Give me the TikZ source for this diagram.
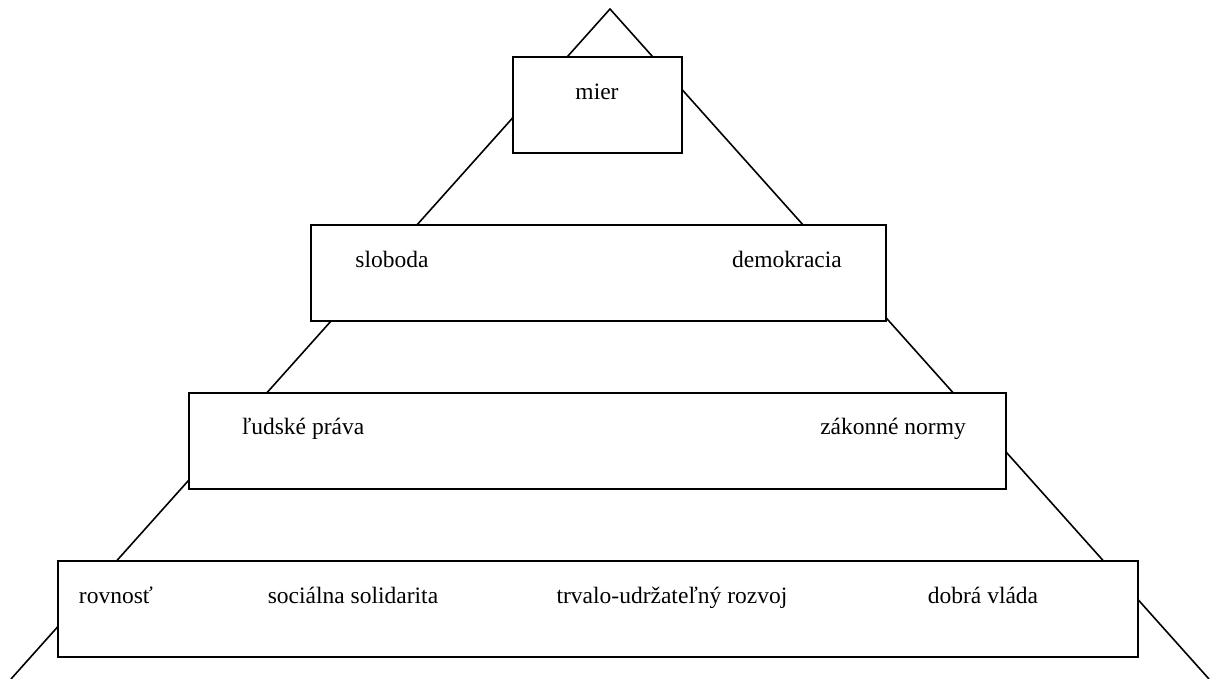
\documentclass[tikz,border=0pt]{standalone}
\usepackage{fontspec}
\setmainfont{Liberation Serif}
\begin{document}
\begin{tikzpicture}[x=1pt,y=-1pt,
  level/.style={draw=black,line width=1.8pt,fill=white},
  lbl/.style={anchor=base,inner sep=0pt,font=\fontsize{23.5}{28}\selectfont},
  edge/.style={line width=1.6pt}]
\useasboundingbox (0,0) rectangle (1217,679);
% pyramid sides
\coordinate (apex) at (610,9);
\coordinate (bl) at (11,679);
\coordinate (br) at (1209,679);
\draw[edge] (bl) -- (apex) -- (br);
% levels
\draw[level] (513,57) rectangle (682,153);
\draw[level] (311,225) rectangle (886,321);
\draw[level] (189,393) rectangle (1006,489);
\draw[level] (58,561) rectangle (1138,657);
% labels
\node[lbl] (mier) at (597,100) {mier};
\node[lbl] (sloboda) at (392,267) {sloboda};
\node[lbl] (demokracia) at (787,267) {demokracia};
\node[lbl] (ludske) at (303,434) {ľudské práva};
\node[lbl] (zakonne) at (893,434) {zákonné normy};
\node[lbl] (rovnost) at (116,603) {rovnosť};
\node[lbl] (solidarita) at (353,603) {sociálna solidarita};
\node[lbl] (rozvoj) at (672,603) {trvalo-udržateľný rozvoj};
\node[lbl] (vlada) at (983,603) {dobrá vláda};
\end{tikzpicture}
\end{document}
